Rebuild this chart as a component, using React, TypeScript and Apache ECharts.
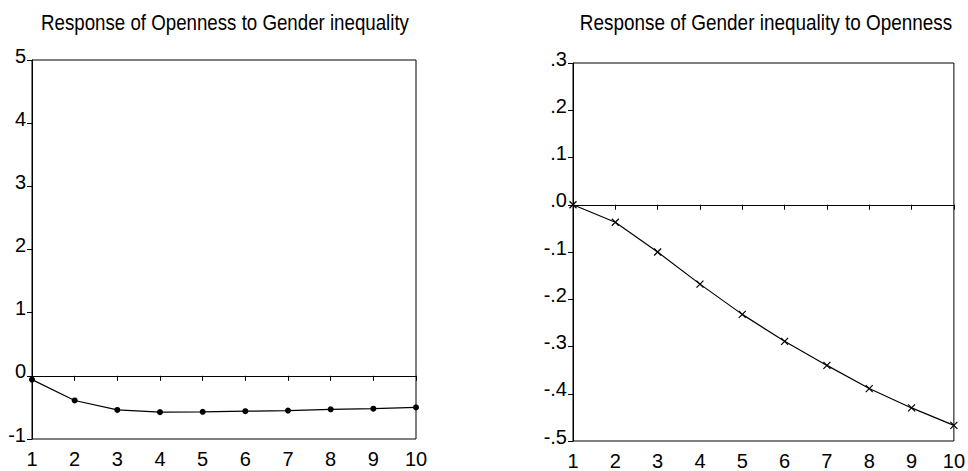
import React, { useEffect, useRef } from "react";
import * as echarts from "echarts";

const periods = ["1", "2", "3", "4", "5", "6", "7", "8", "9", "10"];
const opennessToGender = [-0.06, -0.39, -0.54, -0.575, -0.57, -0.56, -0.55, -0.53, -0.52, -0.5];
const genderToOpenness = [0.0, -0.037, -0.1, -0.168, -0.232, -0.289, -0.34, -0.389, -0.43, -0.467];
const titleLeft = "Response of Openness to Gender inequality";
const titleRight = "Response of Gender inequality to Openness";

const FONT = "'Liberation Sans', Arial, sans-serif";

export default function App() {
  const ref = useRef<HTMLDivElement>(null);
  useEffect(() => {
    if (!ref.current) return;
    const chart = echarts.init(ref.current, null, { renderer: "svg" });
    const axisLine = { show: true, lineStyle: { color: "#000", width: 1 } };
    const axisTick = { show: true, inside: false, length: 5, lineStyle: { color: "#000", width: 1 } };
    const xAxisCommon = (gridIndex: number) => ({
      type: "category" as const,
      gridIndex,
      data: periods,
      boundaryGap: false,
      axisLine,
      axisTick: { ...axisTick, alignWithLabel: true },
      axisLabel: { color: "#000", fontSize: 20, fontFamily: FONT, margin: 10 },
      splitLine: { show: false },
    });
    const zeroLine = {
      silent: true,
      symbol: ["none", "none"],
      label: { show: false },
      lineStyle: { color: "#000", width: 1, type: "solid" },
      data: [{ yAxis: 0 }],
    };
    const fmtDec = (v: number) => v.toFixed(1).replace(/^(-?)0/, "$1");
    const yLabel = {
      color: "#000",
      fontSize: 20,
      fontFamily: FONT,
      margin: 6,
      verticalAlign: "bottom",
      lineHeight: 9,
    };
    chart.setOption({
      animation: false,
      backgroundColor: "#fff",
      graphic: [
        {
          type: "text",
          x: 225,
          y: 23,
          scaleX: 0.87,
          style: {
            text: titleLeft,
            fontSize: 21.5,
            fontFamily: FONT,
            fill: "#000",
            align: "center",
            verticalAlign: "middle",
          },
        },
        {
          type: "text",
          x: 766,
          y: 23,
          scaleX: 0.88,
          style: {
            text: titleRight,
            fontSize: 21.5,
            fontFamily: FONT,
            fill: "#000",
            align: "center",
            verticalAlign: "middle",
          },
        },
      ],
      grid: [
        { left: 32, top: 60, width: 384, height: 379, show: true, borderColor: "#000", borderWidth: 1, backgroundColor: "transparent" },
        { left: 573, top: 63, width: 385, height: 379, show: true, borderColor: "#000", borderWidth: 1, backgroundColor: "transparent" },
      ],
      xAxis: [xAxisCommon(0), xAxisCommon(1)],
      yAxis: [
        {
          type: "value",
          gridIndex: 0,
          min: -1,
          max: 5,
          interval: 1,
          axisLine,
          axisTick,
          splitLine: { show: false },
          axisLabel: { ...yLabel, formatter: (v: number) => String(Math.round(v)) },
        },
        {
          type: "value",
          gridIndex: 1,
          min: -0.5,
          max: 0.3,
          interval: 0.1,
          axisLine,
          axisTick,
          splitLine: { show: false },
          axisLabel: { ...yLabel, formatter: fmtDec },
        },
      ],
      series: [
        {
          type: "line",
          xAxisIndex: 0,
          yAxisIndex: 0,
          data: opennessToGender,
          symbol: "circle",
          symbolSize: 6,
          lineStyle: { color: "#000", width: 1.2 },
          itemStyle: { color: "#000" },
          markLine: zeroLine,
        },
        {
          type: "line",
          xAxisIndex: 1,
          yAxisIndex: 1,
          data: genderToOpenness,
          symbol: "path://M0 0L10 10M10 0L0 10",
          symbolSize: 7,
          lineStyle: { color: "#000", width: 1.2 },
          itemStyle: { color: "#000", borderColor: "#000", borderWidth: 1.2 },
          markLine: zeroLine,
        },
      ],
    });
    return () => chart.dispose();
  }, []);
  return (
    <div
      ref={ref}
      style={{ position: "fixed", left: 0, top: 0, width: 968, height: 471, background: "#fff" }}
    />
  );
}
